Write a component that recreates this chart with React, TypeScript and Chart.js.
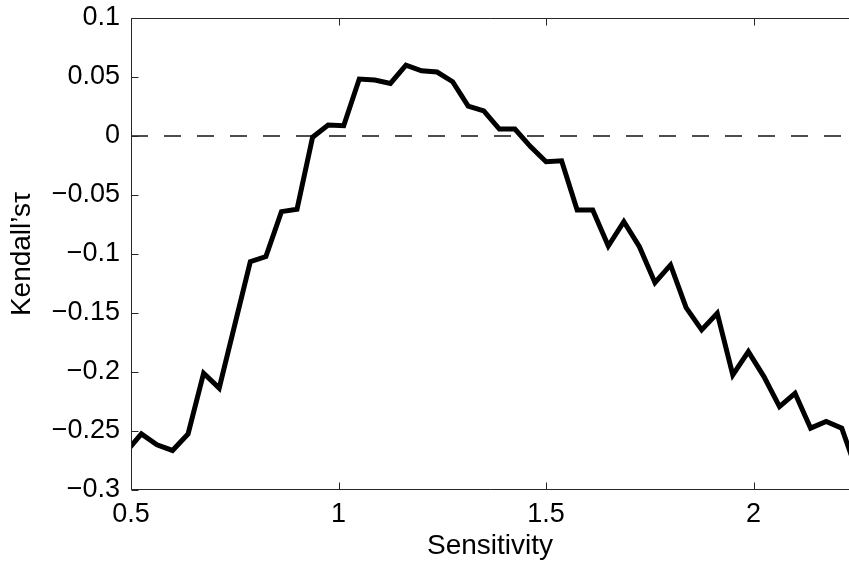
import React, { useEffect, useRef } from "react";
import { Chart, registerables } from "chart.js";

Chart.register(...registerables);

// Data
const sensitivity = [
  0.4875, 0.525, 0.5625, 0.6, 0.6375, 0.675, 0.7125, 0.75, 0.7875, 0.825, 0.8625, 0.9,
  0.9375, 0.975, 1.0125, 1.05, 1.0875, 1.125, 1.1625, 1.2, 1.2375, 1.275, 1.3125, 1.35,
  1.3875, 1.425, 1.4625, 1.5, 1.5375, 1.575, 1.6125, 1.65, 1.6875, 1.725, 1.7625, 1.8,
  1.8375, 1.875, 1.9125, 1.95, 1.9875, 2.025, 2.0625, 2.1, 2.1375, 2.175, 2.2125, 2.25,
];
const kendallTau = [
  -0.268, -0.2525, -0.2617, -0.2665, -0.2525, -0.201, -0.2137, -0.16, -0.1065, -0.1022, -0.0641, -0.0621,
  -0.001, 0.0093, 0.0087, 0.0483, 0.0474, 0.0446, 0.0601, 0.0553, 0.0542, 0.046, 0.0254, 0.0212,
  0.0059, 0.0059, -0.009, -0.0218, -0.021, -0.0627, -0.0627, -0.0932, -0.0726, -0.0938, -0.1243, -0.1093,
  -0.1455, -0.1643, -0.1502, -0.2025, -0.1827, -0.2039, -0.2293, -0.218, -0.2476, -0.242, -0.2476, -0.285,
];
const zeroLineX = [0.5, 2.25];
const zeroLineY = [0, 0];

const xTickValues = [0.5, 1, 1.5, 2];
const xTickLabels = ["0.5", "1", "1.5", "2"];
const yTickValues = [0.1, 0.05, 0, -0.05, -0.1, -0.15, -0.2, -0.25, -0.3];
const yTickLabels = ["0.1", "0.05", "0", "\u22120.05", "\u22120.1", "\u22120.15", "\u22120.2", "\u22120.25", "\u22120.3"];

const X_MIN = 0.5;
const X_MAX = 2.23;
const Y_MIN = -0.3;
const Y_MAX = 0.1;

const FONT = "'Liberation Sans', Arial, Helvetica, sans-serif";
const AXIS_COLOR = "#262626";

const axesBox = {
  id: "axesBox",
  afterDatasetsDraw(chart: any) {
    const { ctx, chartArea: a, scales } = chart;
    ctx.save();
    ctx.strokeStyle = AXIS_COLOR;
    ctx.lineWidth = 1;
    ctx.beginPath();
    const L = Math.round(a.left) + 0.5;
    const T = Math.round(a.top) + 0.5;
    const B = Math.round(a.bottom) - 0.5;
    ctx.moveTo(a.right, T);
    ctx.lineTo(L, T);
    ctx.lineTo(L, B);
    ctx.lineTo(a.right, B);
    const tl = 7;
    for (const v of yTickValues) {
      const py = Math.round(scales.y.getPixelForValue(v)) + 0.5;
      ctx.moveTo(L, py);
      ctx.lineTo(L + tl, py);
    }
    for (const v of xTickValues) {
      const px = Math.round(scales.x.getPixelForValue(v)) + 0.5;
      ctx.moveTo(px, B);
      ctx.lineTo(px, B - tl);
      ctx.moveTo(px, T);
      ctx.lineTo(px, T + tl);
    }
    ctx.stroke();
    ctx.restore();
  },
};

export default function App() {
  const canvasRef = useRef<HTMLCanvasElement | null>(null);

  useEffect(() => {
    const canvas = canvasRef.current;
    if (!canvas) return;
    const chart = new Chart(canvas, {
      type: "line",
      data: {
        datasets: [
          {
            data: sensitivity.map((x, i) => ({ x, y: kendallTau[i] })),
            borderColor: "#000000",
            borderWidth: 5,
            borderJoinStyle: "miter",
            pointRadius: 0,
            tension: 0,
            fill: false,
          },
          {
            data: zeroLineX.map((x, i) => ({ x, y: zeroLineY[i] })),
            borderColor: "#4d4d4d",
            borderWidth: 2,
            borderDash: [17, 16],
            pointRadius: 0,
            fill: false,
          },
        ],
      },
      options: {
        animation: false,
        responsive: false,
        maintainAspectRatio: false,
        layout: { padding: { top: 18, right: 0, left: 0, bottom: 0 } },
        plugins: { legend: { display: false }, tooltip: { enabled: false } },
        scales: {
          x: {
            type: "linear",
            min: X_MIN,
            max: X_MAX,
            afterBuildTicks: (scale: any) => {
              scale.ticks = xTickValues.map((value) => ({ value }));
            },
            afterFit: (scale: any) => {
              scale.height = 75;
              scale.paddingLeft = 0;
              scale.paddingRight = 0;
            },
            grid: { display: false, drawTicks: false },
            border: { display: false },
            ticks: {
              padding: 8,
              color: "#000000",
              font: { family: FONT, size: 27 },
              maxRotation: 0,
              autoSkip: false,
              callback: (_v: any, i: number) => xTickLabels[i],
            },
            title: {
              display: true,
              text: "Sensitivity",
              color: "#000000",
              font: { family: FONT, size: 28, lineHeight: 1 },
              padding: { top: 0, bottom: 5 },
            },
          },
          y: {
            type: "linear",
            min: Y_MIN,
            max: Y_MAX,
            afterBuildTicks: (scale: any) => {
              scale.ticks = yTickValues.map((value) => ({ value }));
            },
            afterFit: (scale: any) => {
              scale.width = 131;
              scale.paddingTop = 0;
              scale.paddingBottom = 0;
            },
            grid: { display: false, drawTicks: false },
            border: { display: false },
            ticks: {
              padding: 11,
              color: "#000000",
              font: { family: FONT, size: 27 },
              autoSkip: false,
              callback: (_v: any, i: number) => yTickLabels[i],
            },
            title: {
              display: true,
              text: "Kendall\u2019s\u03C4",
              color: "#000000",
              font: { family: FONT, size: 28, lineHeight: 1 },
              padding: { top: 8, bottom: 0 },
            },
          },
        },
      },
      plugins: [axesBox],
    });
    return () => chart.destroy();
  }, []);

  return (
    <div style={{ position: "fixed", left: 0, top: 0, width: 849, height: 565, background: "#ffffff" }}>
      <canvas ref={canvasRef} width={849} height={565} style={{ display: "block", width: 849, height: 565 }} />
    </div>
  );
}
